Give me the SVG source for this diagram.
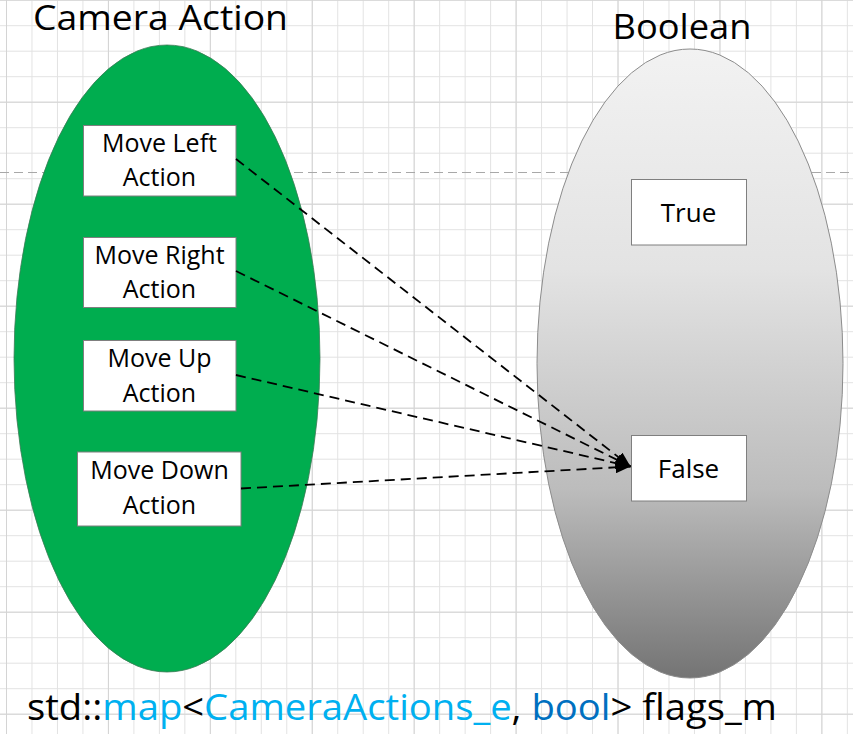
<svg xmlns="http://www.w3.org/2000/svg" width="853" height="734" viewBox="0 0 853 734">
  <defs>
    <!-- background grid: minor cells every ~25.5px, heavier line every 4 cells -->
    <pattern id="gridMinor" x="6" y="-0.3" width="25.48" height="25.5" patternUnits="userSpaceOnUse">
      <path d="M0 0 V25.5 M0 0 H25.48" fill="none" stroke="#e2e2e2" stroke-width="2"/>
    </pattern>
    <pattern id="gridMajor" x="6" y="-0.3" width="101.92" height="102" patternUnits="userSpaceOnUse">
      <path d="M0 0 V102 M0 0 H101.92" fill="none" stroke="#d4d4d4" stroke-width="2"/>
    </pattern>
    <linearGradient id="boolFill" x1="0" y1="0" x2="0" y2="1">
      <stop offset="0" stop-color="#f2f2f2"/>
      <stop offset="0.35" stop-color="#e3e3e3"/>
      <stop offset="0.7" stop-color="#bcbcbc"/>
      <stop offset="1" stop-color="#747474"/>
    </linearGradient>
    <marker id="arrow" markerUnits="userSpaceOnUse" markerWidth="16" markerHeight="12" refX="15" refY="6" orient="auto">
      <path d="M0 0 L15 6 L0 12 Z" fill="#000"/>
    </marker>
    <style>
      .title { font-family: "Open Sans", "Noto Sans", sans-serif; font-size: 35px; fill: #000; text-anchor: middle; }
      .box { fill: #fff; stroke: #7f7f7f; stroke-width: 1; }
      .label { font-family: "Open Sans", "Noto Sans", sans-serif; font-size: 25px; fill: #000; text-anchor: middle; }
      .big { font-size: 26px; }
      .link { fill: none; stroke: #000; stroke-width: 1.8; stroke-dasharray: 10 6; marker-end: url(#arrow); }
      .code { font-family: "Open Sans", "Noto Sans", sans-serif; font-size: 36px; fill: #000; }
      .kw { fill: #00b0f0; }
      .ty { fill: #0070c0; }
    </style>
  </defs>

  <!-- sheet -->
  <rect x="0" y="0" width="853" height="734" fill="#fff"/>
  <rect x="0" y="0" width="853" height="734" fill="url(#gridMinor)"/>
  <rect x="0" y="0" width="853" height="734" fill="url(#gridMajor)"/>
  <!-- page break -->
  <line x1="0" y1="172.5" x2="853" y2="172.5" stroke="#a8a8a8" stroke-width="1" stroke-dasharray="9 5"/>

  <!-- sets -->
  <g id="camera-actions-set">
    <ellipse cx="167" cy="358.5" rx="153" ry="313.5" fill="#00ad4f" stroke="#3c7a55" stroke-width="0.8"/>
    <text class="title" x="160.5" y="30" textLength="255" lengthAdjust="spacingAndGlyphs">Camera Action</text>
  </g>
  <g id="boolean-set">
    <ellipse cx="690" cy="363.5" rx="153" ry="314.5" fill="url(#boolFill)" stroke="#8c8c8c" stroke-width="1"/>
    <text class="title" x="682" y="38.5" textLength="139" lengthAdjust="spacingAndGlyphs">Boolean</text>
  </g>

  <!-- elements -->
  <g id="move-left">
    <rect class="box" x="83.5" y="125.5" width="152.5" height="70.5"/>
    <text class="label" x="159.5" y="152">Move Left</text>
    <text class="label" x="159.5" y="186">Action</text>
  </g>
  <g id="move-right">
    <rect class="box" x="83.5" y="237.5" width="152.5" height="70"/>
    <text class="label" x="159.5" y="264">Move Right</text>
    <text class="label" x="159.5" y="298">Action</text>
  </g>
  <g id="move-up">
    <rect class="box" x="83.5" y="340.5" width="152.5" height="70.5"/>
    <text class="label" x="159.5" y="366.5">Move Up</text>
    <text class="label" x="159.5" y="401.5">Action</text>
  </g>
  <g id="move-down">
    <rect class="box" x="77.5" y="452" width="163.5" height="74"/>
    <text class="label" x="159.5" y="478.5">Move Down</text>
    <text class="label" x="159.5" y="513.5">Action</text>
  </g>
  <g id="true">
    <rect class="box" x="631.5" y="179.5" width="115" height="65.5"/>
    <text class="label big" x="688.5" y="221.5">True</text>
  </g>
  <g id="false">
    <rect class="box" x="631.5" y="435.5" width="115" height="65.5"/>
    <text class="label big" x="688.5" y="477.5">False</text>
  </g>

  <!-- mappings -->
  <g id="connectors">
    <line class="link" x1="236" y1="159" x2="630.5" y2="466.5"/>
    <line class="link" x1="236" y1="271" x2="630.5" y2="466.5"/>
    <line class="link" x1="236" y1="375" x2="630.5" y2="466.5"/>
    <line class="link" x1="241" y1="488.5" x2="630.5" y2="466.5"/>
  </g>

  <!-- caption -->
  <text class="code" x="27" y="720" textLength="750" lengthAdjust="spacingAndGlyphs">std::<tspan class="kw">map</tspan>&lt;<tspan class="kw">CameraActions_e</tspan>, <tspan class="ty">bool</tspan>&gt; flags_m</text>
</svg>
